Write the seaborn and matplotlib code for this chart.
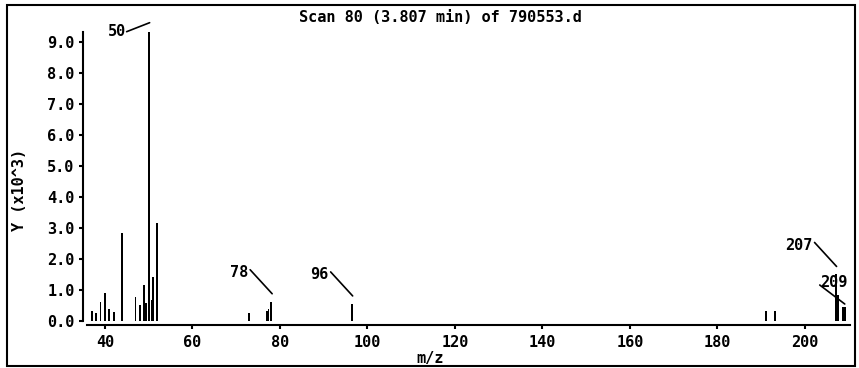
import numpy as np
import pandas as pd
import matplotlib
matplotlib.use("Agg")
import matplotlib.pyplot as plt
import matplotlib.transforms as mtransforms
from matplotlib.patches import Rectangle
import seaborn as sns

# Spectrum data: m/z and abundance (x10^3)
mz = [37, 38, 39, 40, 41, 42, 44, 47, 48, 49, 49.5, 50, 50.7, 51, 51.8, 52,
      73, 77, 77.4, 78, 96.4, 191, 193.1, 207, 207.6, 208.6, 209.1]
abundance = [0.32, 0.27, 0.62, 0.90, 0.39, 0.30, 2.83, 0.78, 0.51, 1.17, 0.58,
             9.33, 0.68, 1.43, 0.65, 3.15, 0.27, 0.33, 0.38, 0.62, 0.55,
             0.33, 0.33, 1.50, 0.84, 0.45, 0.45]

# Labelled peaks
peak_labels = ["50", "78", "96", "207", "209"]
peak_mz = [50, 78, 96.4, 207, 209.1]

x_ticks = [40, 60, 80, 100, 120, 140, 160, 180, 200]
y_ticks = [0, 1, 2, 3, 4, 5, 6, 7, 8, 9]

title = "Scan 80 (3.807 min) of 790553.d"

df = pd.DataFrame({"mz": mz, "abundance": abundance})

sns.set_theme(style="ticks")
plt.rcParams["font.family"] = ["DejaVu Sans Mono"]
plt.rcParams["font.weight"] = "bold"
plt.rcParams["text.color"] = "black"

fig = plt.figure(figsize=(8.59, 3.68), dpi=100)
ax = fig.add_axes([83 / 859, 1 - 325 / 368, (850 - 83) / 859, (325 - 32) / 368])

sns.barplot(data=df, x="mz", y="abundance", native_scale=True, orient="x",
            color="black", errorbar=None, linewidth=0, ax=ax)

# thin stick bars
for p in ax.patches:
    cx = p.get_x() + p.get_width() / 2
    p.set_width(0.45)
    p.set_x(cx - 0.225)

ax.set_xlim(35, 210.3)
ax.set_ylim(-0.13, 9.32)
ax.set_xlabel("")
ax.set_ylabel("")

ax.set_xticks(x_ticks)
ax.set_xticklabels([str(t) for t in x_ticks], fontsize=11, fontweight="bold")
ax.set_yticks(y_ticks)
ax.set_yticklabels([f"{t:.1f}" for t in y_ticks], fontsize=11, fontweight="bold")
ax.tick_params(colors="black", width=1.5, length=3, direction="out")
ax.tick_params(axis="x", pad=4)
ax.tick_params(axis="y", pad=3)

ax.spines["top"].set_visible(False)
ax.spines["right"].set_visible(False)
for s in ["left", "bottom"]:
    ax.spines[s].set_color("black")
    ax.spines[s].set_linewidth(1.5)
ax.spines["left"].set_bounds(0, 9.32)
ax.spines["bottom"].set_bounds(35.9, 210.3)

# peak annotations: text offset (px), text align, leader start / end (px)
default_layout = (-23, 29, "right", (-21, 32), (1, 8))
special_layout = {
    "50": (-23, 0, "right", (-22, 0), (1, 9)),
    "209": (-11, 25, "center", (-25, 22), (0, 3)),
}
heights = dict(zip(mz, abundance))
for lab, m in zip(peak_labels, peak_mz):
    h = heights[m]
    tx, ty, ha, (x0, y0), (x1, y1) = special_layout.get(lab, default_layout)
    ax.text(m, h, lab, fontsize=11, ha=ha, va="center", color="black",
            transform=mtransforms.offset_copy(ax.transData, fig=fig, x=tx, y=ty, units="dots"),
            clip_on=False)
    ax.annotate("", xy=(m, h),
                xycoords=mtransforms.offset_copy(ax.transData, fig=fig, x=x1, y=y1, units="dots"),
                xytext=(m, h),
                textcoords=mtransforms.offset_copy(ax.transData, fig=fig, x=x0, y=y0, units="dots"),
                arrowprops=dict(arrowstyle="-", color="black", lw=1.2, shrinkA=0, shrinkB=0),
                annotation_clip=False)

fig.text(440 / 859, 1 - 18 / 368, title, fontsize=11, ha="center", va="center", color="black")
fig.text(430 / 859, 1 - 359 / 368, "m/z", fontsize=11, ha="center", va="center", color="black")
fig.text(20 / 859, 1 - 190 / 368, "Y (x10^3)", fontsize=11, ha="center", va="center",
         rotation=90, color="black")

# outer frame
fig.add_artist(Rectangle((6.5 / 859, 2 / 368), (855 - 6.5) / 859, (366 - 5) / 368,
                         transform=fig.transFigure, fill=False, edgecolor="black",
                         linewidth=1.5))

fig.savefig("out.png", dpi=100, facecolor="white")
